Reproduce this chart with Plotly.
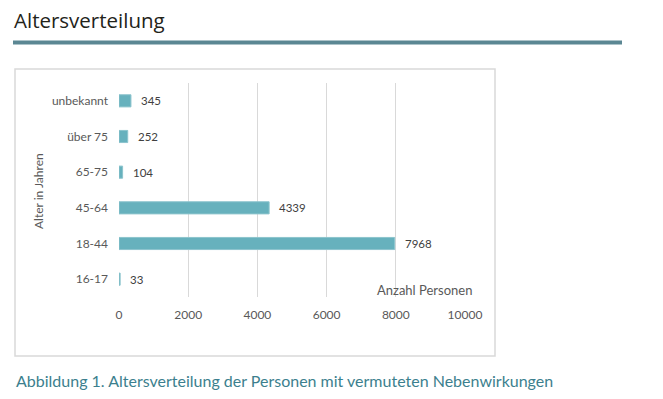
import plotly.graph_objects as go

categories = ["16-17", "18-44", "45-64", "65-75", "über 75", "unbekannt"]
values = [33, 7968, 4339, 104, 252, 345]
x_ticks = [0, 2000, 4000, 6000, 8000, 10000]

W, H = 663, 399
def px(x):
    return x / W
def py(y):
    return 1 - y / H

bar_color = "#67b1bd"
text_gray = "#595959"
font_fam = "Lato, 'Open Sans', sans-serif"

fig = go.Figure()
fig.add_trace(go.Bar(
    y=categories, x=values, orientation="h",
    marker=dict(color=bar_color, line=dict(color="#8cc4cd", width=1)),
    width=0.34, hoverinfo="skip",
))

# data labels from the same arrays, placed through the axes
for c, v in zip(categories, values):
    fig.add_annotation(x=v, y=c, xref="x", yref="y", text=str(v), showarrow=False,
                       xanchor="left", yanchor="middle", xshift=8,
                       font=dict(family=font_fam, size=11.5, color="#404040"))

fig.update_layout(
    width=W, height=H,
    margin=dict(l=0, r=0, t=0, b=0, autoexpand=False),
    paper_bgcolor="white", plot_bgcolor="white",
    showlegend=False,
    xaxis=dict(
        domain=[px(119), px(465)], range=[0, 10000], automargin=False,
        tickvals=x_ticks, ticktext=[str(t) for t in x_ticks],
        showgrid=True, gridcolor="#d9d9d9", gridwidth=1,
        zeroline=False, showline=False, ticks="",
        tickfont=dict(family=font_fam, size=12, color=text_gray),
        ticklabelstandoff=9,
    ),
    yaxis=dict(
        domain=[py(297), py(83)], automargin=False,
        categoryorder="array", categoryarray=categories,
        showgrid=False, zeroline=False, showline=False, ticks="",
        tickfont=dict(family=font_fam, size=12, color=text_gray),
        ticklabelstandoff=10,
    ),
    bargap=0.6,
)

# outer chart border
fig.add_shape(type="rect", xref="paper", yref="paper",
              x0=px(15), x1=px(495), y0=py(356), y1=py(69),
              line=dict(color="#d9d9d9", width=1.5), fillcolor="rgba(0,0,0,0)", layer="below")
# heading rule
fig.add_shape(type="line", xref="paper", yref="paper",
              x0=px(13), x1=px(622), y0=py(42.5), y1=py(42.5),
              line=dict(color="#5b8793", width=4))

annos = [
    dict(text="Altersverteilung", x=px(12), y=py(20), xanchor="left", yanchor="middle",
         font=dict(family="'Open Sans', sans-serif", size=20.5, color="#23231a", weight=500)),
    dict(text="Alter in Jahren", x=px(38), y=py(191), xanchor="center", yanchor="middle",
         textangle=-90, font=dict(family=font_fam, size=12, color=text_gray)),
    dict(text="Anzahl Personen", x=px(474), y=py(290), xanchor="right", yanchor="middle",
         font=dict(family=font_fam, size=13, color=text_gray)),
    dict(text="Abbildung 1. Altersverteilung der Personen mit vermuteten Nebenwirkungen",
         x=px(14), y=py(380), xanchor="left", yanchor="middle",
         font=dict(family=font_fam, size=16, color="#3c7f8e")),
]
for a in annos:
    fig.add_annotation(xref="paper", yref="paper", showarrow=False, **a)

fig.write_html("out.html", config={"displayModeBar": False},
               post_script="document.body.style.margin='0';document.body.style.overflow='hidden';")
